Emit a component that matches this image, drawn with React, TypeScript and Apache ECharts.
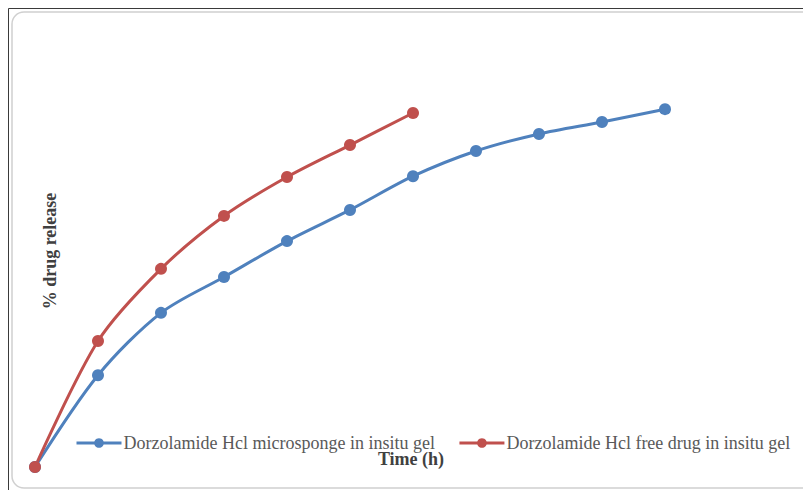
import React, { useEffect, useRef } from "react";
import * as echarts from "echarts";

// Release time points (h)
const timeMicrosponge = [0, 1, 2, 3, 4, 5, 6, 7, 8, 9, 10];
const timeFreeDrug = [0, 1, 2, 3, 4, 5, 6];

// Cumulative % drug release
const releaseMicrosponge = [0, 21.5, 36.1, 44.5, 52.9, 60.2, 68.1, 74.0, 78.0, 80.8, 83.8];
const releaseFreeDrug = [0, 29.5, 46.4, 58.8, 67.9, 75.4, 82.9];

const seriesNames = [
  "Dorzolamide Hcl microsponge in insitu gel",
  "Dorzolamide Hcl free drug in insitu gel",
];

const FONT = "'Liberation Serif', 'Times New Roman', serif";

export default function App() {
  const ref = useRef<HTMLDivElement>(null);

  useEffect(() => {
    if (!ref.current) return;
    const chart = echarts.init(ref.current, null, { renderer: "svg" });

    const pair = (xs: number[], ys: number[]) => xs.map((x, i) => [x, ys[i]]);

    chart.setOption({
      animation: false,
      backgroundColor: "#ffffff",
      grid: { left: 35, right: 12, top: 40, bottom: 23 },
      xAxis: {
        type: "value",
        min: 0,
        max: 12,
        show: false,
      },
      yAxis: {
        type: "value",
        min: 0,
        max: 100,
        show: false,
      },
      legend: {
        left: 70,
        top: 429,
        itemWidth: 45,
        itemHeight: 12,
        itemGap: 23,
        lineStyle: { width: 3 },
        textStyle: { fontFamily: FONT, fontSize: 18, color: "#595959", padding: [0, 0, 0, -3] },
        data: seriesNames,
      },
      graphic: [
        {
          type: "rect",
          z: -10,
          shape: { x: 12, y: 12, width: 806, height: 476, r: 12 },
          style: { fill: "#ffffff", stroke: "#d0d0d0", lineWidth: 1.5 },
        },
        {
          type: "line",
          shape: { x1: 8.5, y1: 8.5, x2: 803, y2: 8.5 },
          style: { stroke: "#3a3a3a", lineWidth: 1 },
        },
        {
          type: "line",
          shape: { x1: 8.5, y1: 8.5, x2: 8.5, y2: 490 },
          style: { stroke: "#3a3a3a", lineWidth: 1 },
        },
        {
          type: "text",
          x: 50,
          y: 251,
          rotation: Math.PI / 2,
          style: {
            text: "% drug release",
            fontFamily: FONT,
            fontSize: 18,
            fontWeight: "bold",
            fill: "#404040",
            align: "center",
            verticalAlign: "middle",
          },
        },
        {
          type: "text",
          x: 411,
          y: 459,
          style: {
            text: "Time (h)",
            fontFamily: FONT,
            fontSize: 18,
            fontWeight: "bold",
            fill: "#404040",
            align: "center",
            verticalAlign: "middle",
          },
        },
      ],
      series: [
        {
          name: seriesNames[0],
          type: "line",
          data: pair(timeMicrosponge, releaseMicrosponge),
          smooth: 0.3,
          symbol: "circle",
          symbolSize: 12,
          color: "#4F81BD",
          lineStyle: { width: 3, color: "#4F81BD" },
          itemStyle: { color: "#4F81BD" },
        },
        {
          name: seriesNames[1],
          type: "line",
          data: pair(timeFreeDrug, releaseFreeDrug),
          smooth: 0.3,
          symbol: "circle",
          symbolSize: 12,
          color: "#C0504D",
          lineStyle: { width: 3, color: "#C0504D" },
          itemStyle: { color: "#C0504D" },
        },
      ],
    });

    return () => chart.dispose();
  }, []);

  return (
    <div
      ref={ref}
      style={{ position: "fixed", left: 0, top: 0, width: 803, height: 490 }}
    />
  );
}
